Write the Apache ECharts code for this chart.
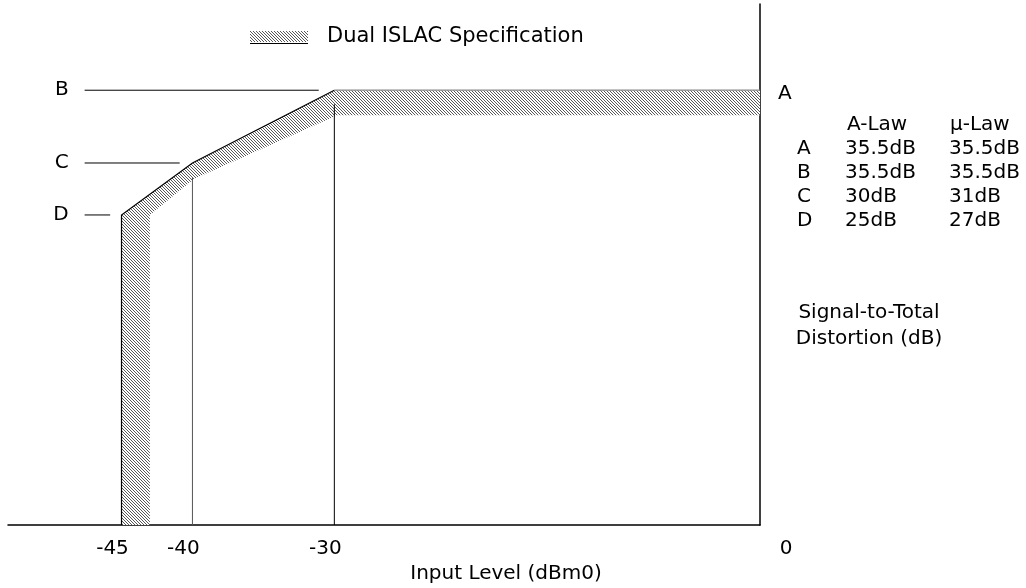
<!DOCTYPE html>
<html><head><meta charset="utf-8">
<script src="https://cdn.jsdelivr.net/npm/echarts@6/dist/echarts.min.js"></script>
<style>html,body{margin:0;padding:0;background:#fff}#c{width:1026px;height:588px}</style>
</head><body><div id="c"></div>
<script>
// ---- data ----
const xTicks = [-45, -40, -30, 0];
const xName = 'Input Level (dBm0)';
const yName = 'Signal-to-Total\nDistortion (dB)';
const seriesName = 'Dual ISLAC Specification';
const bandUpper = [[-45, 0], [-45, 25.35], [-40, 29.6], [-30, 35.55], [0, 35.55]];
const bandLower = [[-43, 0], [-43, 25.35], [-39.9, 28.3], [-29.8, 33.5], [0, 33.5]];
const levelNames = ['B', 'C', 'D'];
const levelValues = [35.55, 29.6, 25.35];
const levelStart = [-47.6, -47.6, -47.6];
const levelEnd = [-31.1, -40.9, -45.8];
const guideX = [-40, -30];
const guideTop = [28.4, 34.4];
const pointAName = 'A';
const pointA = [0, 35.55];
const tableHeader = ['A-Law', 'µ-Law'];
const tableLetters = ['A', 'B', 'C', 'D'];
const aLaw = ['35.5dB', '35.5dB', '30dB', '25dB'];
const muLaw = ['35.5dB', '35.5dB', '31dB', '27dB'];

// ---- styles ----
const FONT = 'DejaVu Sans';
function makeHatch() {
  const c = document.createElement('canvas');
  c.width = 3; c.height = 3;
  const g = c.getContext('2d');
  g.fillStyle = '#ffffff'; g.fillRect(0, 0, 3, 3);
  g.fillStyle = '#585858';
  for (let i = 0; i < 3; i++) g.fillRect(i, i, 1, 1);
  return c;
}
const hatch = { image: makeHatch(), repeat: 'repeat' };
const txt = (text, x, y, align) => ({
  type: 'text', x: x, y: y,
  style: { text: text, fontSize: 20, fontFamily: FONT, fill: '#000', align: align || 'left', verticalAlign: 'middle', lineHeight: 26 }
});

const tableEls = [];
tableEls.push(txt(tableHeader[0], 847, 125));
tableEls.push(txt(tableHeader[1], 950, 125));
tableLetters.forEach((l, i) => {
  const y = 149 + 24 * i;
  tableEls.push(txt(l, 797, y));
  tableEls.push(txt(aLaw[i], 845, y));
  tableEls.push(txt(muLaw[i], 949, y));
});
tableEls.push(txt(yName, 869, 326, 'center'));

const chart = echarts.init(document.getElementById('c'), null, { renderer: 'canvas' });
chart.setOption({
  animation: false,
  backgroundColor: '#fff',
  grid: { left: 8, right: 266, top: 4, bottom: 63, containLabel: false, outerBoundsMode: 'none' },
  legend: {
    left: 250, top: 26, padding: 0, itemWidth: 58, itemHeight: 11,
    textStyle: { fontSize: 21, fontFamily: FONT, color: '#000', padding: [0, 0, 0, 14] },
    data: [{ name: seriesName, icon: 'rect', itemStyle: { color: hatch, borderWidth: 0 } }]
  },
  xAxis: {
    type: 'value', min: -53, max: 0,
    axisLine: { show: true, onZero: false, lineStyle: { color: '#000', width: 1.5 } },
    axisTick: { show: false },
    splitLine: { show: false },
    axisLabel: {
      customValues: xTicks, margin: 14, fontSize: 20, fontFamily: FONT, color: '#000',
      formatter: v => (v === 0 ? '{r|0}' : '{l|' + v + '}'),
      rich: {
        l: { fontSize: 20, fontFamily: FONT, color: '#000', padding: [0, 18, 0, 0] },
        r: { fontSize: 20, fontFamily: FONT, color: '#000', padding: [0, 0, 0, 52] }
      }
    },
    name: xName, nameLocation: 'middle', nameGap: 31,
    nameTextStyle: { fontSize: 20, fontFamily: FONT, color: '#000', padding: [0, 0, 0, 244] }
  },
  yAxis: {
    type: 'value', position: 'right', min: 0, max: 42.6,
    axisLine: { show: true, onZero: false, lineStyle: { color: '#000', width: 1.5 } },
    axisTick: { show: false },
    splitLine: { show: false },
    axisLabel: { show: false }
  },
  graphic: [
    { type: 'line', z: 10, shape: { x1: 250, y1: 43.5, x2: 308, y2: 43.5 }, style: { stroke: '#000', lineWidth: 1 } },
    { type: 'group', children: tableEls }
  ],
  series: [
    {
      name: seriesName, type: 'custom', itemStyle: { color: hatch },
      data: [0], z: 2,
      renderItem: (params, api) => {
        const up = bandUpper.map(p => api.coord(p));
        const lo = bandLower.map(p => api.coord(p)).reverse();
        return {
          type: 'group', children: [
            { type: 'polygon', shape: { points: up.concat(lo) }, style: { fill: hatch } },
            { type: 'polyline', shape: { points: up.slice(0, 4) }, style: { stroke: '#000', lineWidth: 1.2, fill: null } },
            { type: 'polyline', shape: { points: up.slice(3) }, style: { stroke: '#888', lineWidth: 1.2, fill: null } }
          ]
        };
      }
    },
    {
      name: 'levels', type: 'custom', z: 3,
      data: levelNames.map((n, i) => [levelStart[i], levelEnd[i], levelValues[i]]),
      renderItem: (params, api) => {
        const s = api.coord([api.value(0), api.value(2)]);
        const e = api.coord([api.value(1), api.value(2)]);
        return {
          type: 'group', children: [
            { type: 'line', shape: { x1: s[0], y1: s[1], x2: e[0], y2: e[1] }, style: { stroke: '#000', lineWidth: 1 } },
            { type: 'text', x: s[0] - 16, y: s[1], style: { text: levelNames[params.dataIndex], align: 'right', verticalAlign: 'middle', fontSize: 20, fontFamily: FONT, fill: '#000' } }
          ]
        };
      }
    },
    {
      name: 'guides', type: 'custom', z: 3,
      data: guideX.map((x, i) => [x, guideTop[i]]),
      renderItem: (params, api) => {
        const b = api.coord([api.value(0), 0]);
        const t = api.coord([api.value(0), api.value(1)]);
        return { type: 'line', shape: { x1: b[0], y1: b[1], x2: t[0], y2: t[1] }, style: { stroke: params.dataIndex === 0 ? '#555' : '#000', lineWidth: 1 } };
      }
    },
    {
      name: 'pointA', type: 'custom', z: 3,
      data: [pointA],
      renderItem: (params, api) => {
        const p = api.coord([api.value(0), api.value(1)]);
        return { type: 'text', x: p[0] + 18, y: p[1] + 4, style: { text: pointAName, align: 'left', verticalAlign: 'middle', fontSize: 20, fontFamily: FONT, fill: '#000' } };
      }
    }
  ]
});
</script></body></html>
